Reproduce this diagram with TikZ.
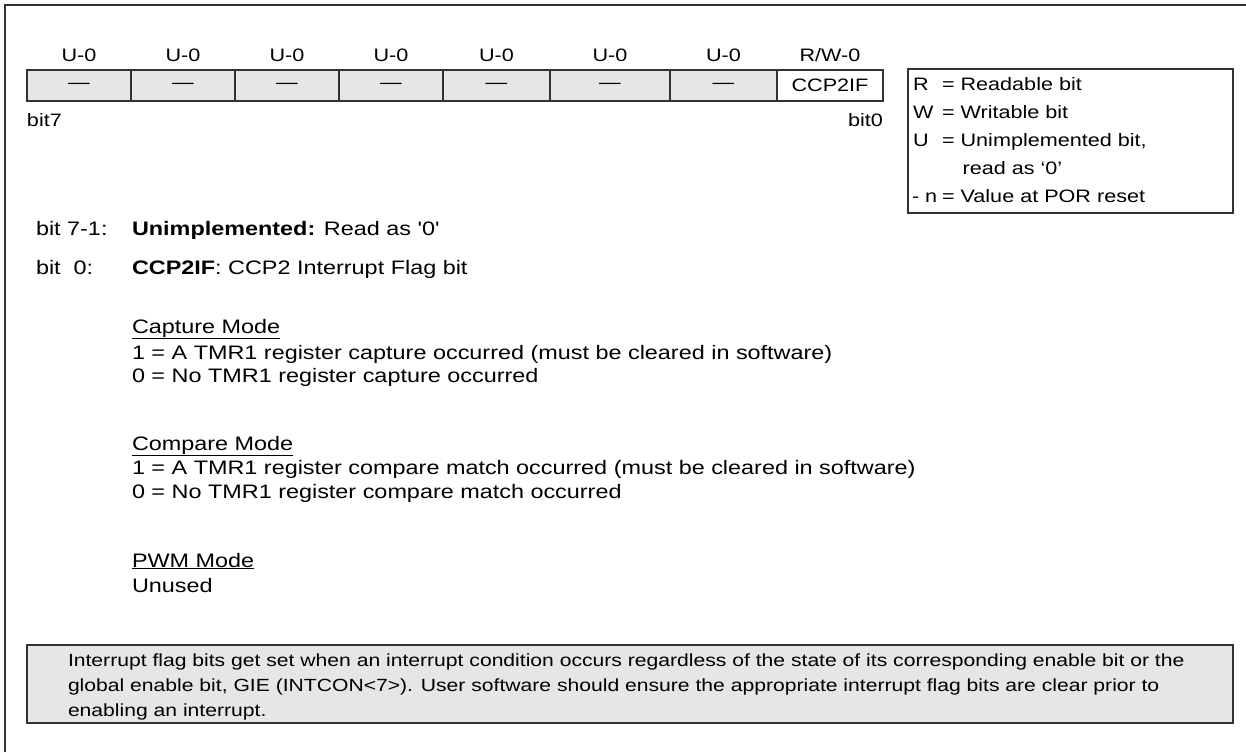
\documentclass[tikz,border=0pt]{standalone}
\usepackage{fontspec}
\newfontfamily\regf[FakeStretch=1.2]{Liberation Sans}
\definecolor{cellgray}{HTML}{E6E6E6}
\definecolor{linegray}{HTML}{333333}
\begin{document}
\begin{tikzpicture}[x=1pt,y=-1pt,
  every node/.style={inner sep=0pt, outer sep=0pt, text=black},
  regfont/.style={font=\regf\fontsize{18}{21}\selectfont},
  bodyfont/.style={font=\regf\fontsize{19.5}{23}\selectfont},
  notefont/.style={font=\regf\fontsize{17.6}{21}\selectfont},
  cellbox/.style={draw=linegray, line width=1.2pt, anchor=north west, minimum height=31pt, regfont},
  graycell/.style={cellbox, fill=cellgray},
  whitecell/.style={cellbox, fill=white},
  toplabel/.style={anchor=base, regfont},
  bw/.style={anchor=base west},
  be/.style={anchor=base east},
  legtext/.style={anchor=base west, regfont},
  body/.style={anchor=base west, bodyfont},
  notetext/.style={anchor=base west, notefont}]
\useasboundingbox (0,0) rectangle (1246,752);
% outer frame
\draw[linegray, line width=1.8pt] (5,752) -- (5,5) -- (1246,5);

% register cells
\node[graycell, minimum width=104pt] (c7) at (27,70) {—};
\node[graycell, minimum width=104pt] (c6) at (131,70) {—};
\node[graycell, minimum width=104pt] (c5) at (235,70) {—};
\node[graycell, minimum width=104pt] (c4) at (339,70) {—};
\node[graycell, minimum width=107pt] (c3) at (443,70) {—};
\node[graycell, minimum width=120pt] (c2) at (550,70) {—};
\node[graycell, minimum width=107pt] (c1) at (670,70) {—};
\node[whitecell, minimum width=106pt] (c0) at (777,70) {CCP2IF};

% labels above
\foreach \c in {7,6,5,4,3,2,1}{
  \node[toplabel] (t\c) at ([yshift=8pt]c\c.north) {U-0};
}
\node[toplabel] (t0) at ([yshift=8pt]c0.north) {R/W-0};

\node[bw, regfont] (bit7) at (27,126) {bit7};
\node[be, regfont] (bit0) at (883,126) {bit0};

% legend
\node[draw=linegray, line width=1.2pt, anchor=north west, minimum width=325pt, minimum height=144pt] (legend) at (908,69) {};
\node[legtext] (lR) at (913,90) {R};
\node[legtext] (lRt) at (942,90) {= Readable bit};
\node[legtext] (lW) at (913,118) {W};
\node[legtext] (lWt) at (942,118) {= Writable bit};
\node[legtext] (lU) at (913,146) {U};
\node[legtext] (lUt) at (942,146) {= Unimplemented bit,};
\node[legtext] (lUt2) at (944,174) {\phantom{= }read as ‘0’};
\node[legtext] (ln) at (912,202) {- n};
\node[legtext] (lnt) at (942,202) {= Value at POR reset};

% body text
\node[body] (b71) at (36,235) {bit 7-1:};
\node[body] (b71t) at (132,235) {\textbf{Unimplemented:} Read as '0'};
\node[body] (b0) at (36,274) {bit\ \ 0:};
\node[body] (b0t) at (132,274) {\textbf{CCP2IF}: CCP2 Interrupt Flag bit};

\node[body] (cap) at (132,333) {\underline{Capture Mode}};
\node[body] (cap1) at (132,359) {1 = A TMR1 register capture occurred (must be cleared in software)};
\node[body] (cap0) at (132,382) {0 = No TMR1 register capture occurred};

\node[body] (cmp) at (132,450) {\underline{Compare Mode}};
\node[body] (cmp1) at (132,474) {1 = A TMR1 register compare match occurred (must be cleared in software)};
\node[body] (cmp0) at (132,498) {0 = No TMR1 register compare match occurred};

\node[body] (pwm) at (132,567) {\underline{PWM Mode}};
\node[body] (pwm1) at (132,592) {Unused};

% note box
\node[draw=linegray, fill=cellgray, line width=1.2pt, anchor=north west, minimum width=1206pt, minimum height=78pt] (note) at (27,645) {};
\draw[linegray, line width=2pt] (note.south west) -- (note.south east) -- (note.north east);
\node[notetext] (n1) at (68,666) {Interrupt flag bits get set when an interrupt condition occurs regardless of the state of its corresponding enable bit or the};
\node[notetext] (n2) at (68,691) {global enable bit, GIE (INTCON<7>). User software should ensure the appropriate interrupt flag bits are clear prior to};
\node[notetext] (n3) at (68,716) {enabling an interrupt.};
\end{tikzpicture}
\end{document}
